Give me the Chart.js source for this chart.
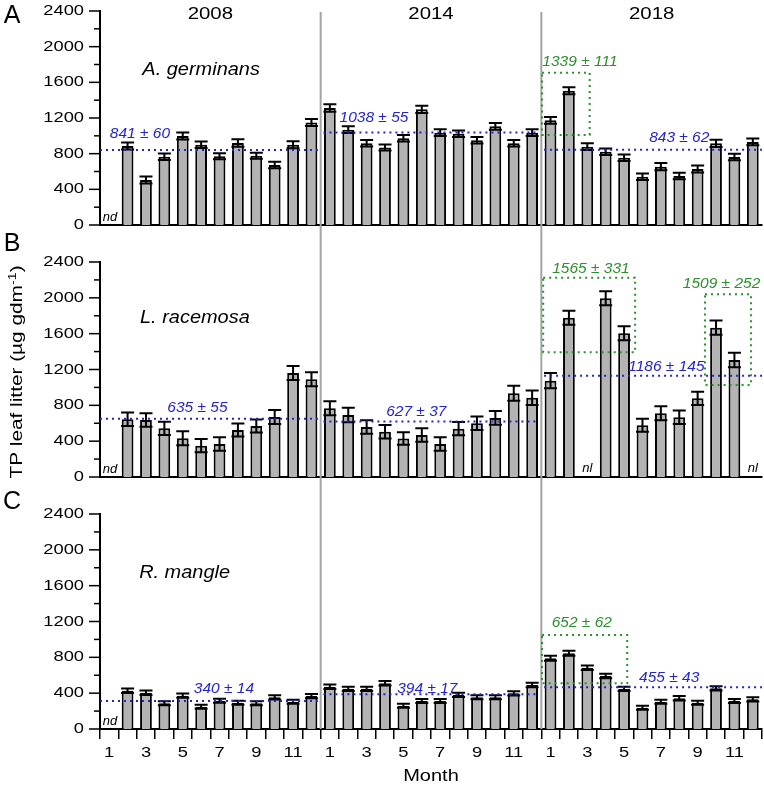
<!DOCTYPE html>
<html>
<head>
<meta charset="utf-8">
<script src="https://cdn.jsdelivr.net/npm/chart.js@4.4.1/dist/chart.umd.min.js"></script>
<style>
body { margin: 0; background: #fff; }
#wrap { position: relative; width: 764px; height: 787px; }
canvas { position: absolute; left: 0; }
</style>
</head>
<body>
<div id="wrap">
<canvas id="chartA" width="764" height="230" style="top:0px"></canvas>
<canvas id="chartB" width="764" height="255" style="top:230px"></canvas>
<canvas id="chartC" width="764" height="302" style="top:485px"></canvas>
</div>
<script>
// x axis: months of 2008, 2014, 2018
var years = ['2008', '2014', '2018'];
var monthNames = ['1', '2', '3', '4', '5', '6', '7', '8', '9', '10', '11', '12'];
var months = monthNames.concat(monthNames, monthNames);
var yTicks = [0, 400, 800, 1200, 1600, 2000, 2400];

// TP leaf litter, null = nd / nl
var germinans = [null, 886, 505, 766, 998, 900, 770, 920, 777, 673, 900, 1150,
    1312, 1069, 916, 870, 972, 1297, 1035, 1024, 950, 1107, 916, 1035,
    1174, 1506, 878, 822, 755, 542, 654, 550, 628, 916, 763, 931];
var germinansErr = [null, 38, 40, 36, 40, 36, 34, 42, 34, 36, 38, 40,
    42, 38, 36, 34, 36, 40, 38, 36, 36, 38, 36, 38,
    38, 40, 38, 36, 36, 36, 40, 36, 38, 40, 36, 38];

var racemosa = [null, 644, 636, 543, 432, 350, 368, 525, 569, 670, 1161, 1090,
    767, 692, 558, 506, 430, 469, 368, 540, 600, 660, 935, 885,
    1075, 1778, null, 1995, 1604, 577, 711, 666, 878, 1667, 1306, null];
var racemosaErr = [null, 75, 75, 75, 78, 75, 75, 72, 72, 78, 78, 78,
    78, 80, 75, 75, 70, 75, 75, 75, 75, 78, 85, 80,
    85, 78, null, 78, 78, 72, 78, 75, 75, 80, 80, null];

var mangle = [null, 428, 405, 287, 372, 249, 316, 294, 287, 354, 305, 368,
    472, 449, 449, 510, 260, 313, 313, 380, 354, 354, 398, 491,
    789, 845, 684, 592, 447, 238, 305, 343, 294, 454, 313, 331];
var mangleErr = [null, 25, 25, 22, 24, 22, 22, 22, 22, 24, 22, 24,
    25, 24, 24, 25, 22, 22, 22, 24, 22, 22, 24, 25,
    28, 28, 26, 25, 24, 22, 22, 24, 22, 24, 22, 24];

// yearly means (dotted lines) and their labels
var meanA = [841, 1038, 843];
var meanB = [650, 620, 1131];
var meanC = [313, 387, 465];
var meanTextA = ['841 ± 60', '1038 ± 55', '843 ± 62'];
var meanTextB = ['635 ± 55', '627 ± 37', '1186 ± 145'];
var meanTextC = ['340 ± 14', '394 ± 17', '455 ± 43'];

var FONT = "'Liberation Sans', Arial, sans-serif";
var BLUE = '#2424cc';
var GREEN = '#2e8f2e';

function say(c, text, x, y, font, color, align, sx, base) {
    c.save();
    c.translate(x, y);
    c.scale(sx || 1, 1);
    c.font = font;
    c.fillStyle = color;
    c.textAlign = align || 'center';
    c.textBaseline = base || 'middle';
    c.fillText(text, 0, 0);
    c.restore();
}

function decor(cfg) {
    return {
        id: 'decor' + cfg.letter,
        afterDatasetsDraw: function (chart) {
            var c = chart.ctx, xs = chart.scales.x, ys = chart.scales.y, area = chart.chartArea;
            var step = xs.getPixelForValue(1) - xs.getPixelForValue(0);
            function px(i) { return xs.getPixelForValue(0) - step / 2 + i * step; }
            c.save();

            // year separators
            c.strokeStyle = '#a3a3a3';
            c.lineWidth = 2;
            [12, 24].forEach(function (i) {
                c.beginPath();
                c.moveTo(px(i), cfg.sepTop);
                c.lineTo(px(i), cfg.sepToAxis ? area.bottom : chart.height);
                c.stroke();
            });

            // error bars
            c.strokeStyle = '#000';
            c.lineWidth = 2;
            chart.getDatasetMeta(0).data.forEach(function (bar, i) {
                var v = cfg.values[i];
                if (v == null) return;
                var yt = ys.getPixelForValue(v + cfg.errors[i]);
                var yb = ys.getPixelForValue(v - cfg.errors[i]);
                c.beginPath();
                c.moveTo(bar.x, yt); c.lineTo(bar.x, yb);
                c.moveTo(bar.x - 6.5, yt); c.lineTo(bar.x + 6.5, yt);
                c.moveTo(bar.x - 6.5, yb); c.lineTo(bar.x + 6.5, yb);
                c.stroke();
            });

            // y ticks (major + minor) and labels
            c.lineWidth = 1.5;
            ys.ticks.forEach(function (t) {
                var y = ys.getPixelForValue(t.value);
                var major = yTicks.indexOf(t.value) >= 0;
                c.beginPath();
                c.moveTo(area.left - (major ? 11 : 6), y);
                c.lineTo(area.left, y);
                c.stroke();
                if (major) say(c, String(t.value), area.left - 16, y, '15px ' + FONT, '#000', 'right', 1.22);
            });

            // mean lines
            c.setLineDash([2, 4]);
            c.lineWidth = 2;
            c.strokeStyle = BLUE;
            cfg.means.forEach(function (m, s) {
                var y = ys.getPixelForValue(m);
                c.beginPath();
                c.moveTo(px(s * 12 + (s > 0 ? 0.15 : 0)), y);
                c.lineTo(px(s * 12 + 12 - (s < 2 ? 0.15 : 0)), y);
                c.stroke();
            });

            // green boxes
            c.strokeStyle = GREEN;
            cfg.boxes.forEach(function (b) {
                var y1 = ys.getPixelForValue(b.v1), y0 = ys.getPixelForValue(b.v0);
                c.strokeRect(px(b.x0), y1, px(b.x1) - px(b.x0), y0 - y1);
                say(c, b.text, px(b.tx), ys.getPixelForValue(b.tv), 'italic 15.5px ' + FONT, GREEN, 'center', 1);
            });
            c.setLineDash([]);

            cfg.meanPos.forEach(function (p, s) {
                say(c, cfg.meanText[s], px(p[0]), ys.getPixelForValue(p[1]), 'italic 15.5px ' + FONT, BLUE, 'center', 1);
            });

            cfg.missing.forEach(function (p) {
                say(c, p[0], px(p[1]), ys.getPixelForValue(p[2]), 'italic 13px ' + FONT, '#000', 'center', 1);
            });

            say(c, cfg.species, px(cfg.spX), ys.getPixelForValue(cfg.spV), 'italic 19px ' + FONT, '#000', 'center', 1.05, 'alphabetic');
            say(c, cfg.letter, 12, cfg.letterY, '25px ' + FONT, '#000', 'center', 1);

            if (cfg.letter === 'A') {
                years.forEach(function (yr, s) {
                    say(c, yr, px(s * 12 + 6), ys.getPixelForValue(2365), '17px ' + FONT, '#000', 'center', 1.2);
                });
            }
            if (cfg.letter === 'B') {
                // y axis title with superscript
                c.save();
                c.translate(22, 142);
                c.rotate(-Math.PI / 2);
                c.scale(1.3, 1);
                c.fillStyle = '#000';
                c.textBaseline = 'alphabetic';
                c.textAlign = 'left';
                var main = 'TP leaf litter (µg gdm', sup = '-1', end = ')';
                c.font = '16px ' + FONT;
                var w1 = c.measureText(main).width, w3 = c.measureText(end).width;
                c.font = '11px ' + FONT;
                var w2 = c.measureText(sup).width;
                var x0 = -(w1 + w2 + w3) / 2;
                c.font = '16px ' + FONT;
                c.fillText(main, x0, 0);
                c.fillText(end, x0 + w1 + w2, 0);
                c.font = '11px ' + FONT;
                c.fillText(sup, x0 + w1, -6);
                c.restore();
            }
            if (cfg.letter === 'C') {
                for (var i = 0; i < months.length; i += 2) {
                    say(c, months[i], xs.getPixelForValue(i), area.bottom + 24, '15px ' + FONT, '#000', 'center', 1.22);
                }
                say(c, 'Month', px(18), area.bottom + 48, '16px ' + FONT, '#000', 'center', 1.25);
            }
            c.restore();
        }
    };
}

function makePanel(id, cfg) {
    var ctx = document.getElementById(id).getContext('2d');
    return new Chart(ctx, {
        type: 'bar',
        data: {
            labels: months,
            datasets: [{
                data: cfg.values,
                backgroundColor: '#b3b3b3',
                borderColor: '#000',
                borderWidth: 2,
                barPercentage: 0.64,
                categoryPercentage: 1
            }]
        },
        options: {
            responsive: false,
            animation: false,
            layout: { padding: { top: cfg.top, left: 0, right: 2, bottom: 0 } },
            plugins: { legend: { display: false }, tooltip: { enabled: false } },
            scales: {
                x: {
                    offset: true,
                    ticks: { display: false, autoSkip: false },
                    grid: { display: cfg.xTicks, drawOnChartArea: false, offset: true, tickLength: 10, color: '#000', lineWidth: 1.5 },
                    border: { display: true, color: '#000', width: 2 },
                    afterFit: function (s) { s.height = cfg.axisH; }
                },
                y: {
                    min: 0,
                    max: 2400,
                    ticks: { display: false, stepSize: 200 },
                    grid: { display: false },
                    border: { display: true, color: '#000', width: 2 },
                    afterFit: function (s) { s.width = 100; }
                }
            }
        },
        plugins: [decor(cfg)]
    });
}

// Panel A: A. germinans
makePanel('chartA', {
    letter: 'A', letterY: 16, species: 'A. germinans', spX: 5.5, spV: 1682,
    values: germinans, errors: germinansErr, means: meanA, meanText: meanTextA,
    meanPos: [[2.17, 1020], [14.9, 1206], [31.5, 979]],
    boxes: [{ x0: 24.04, x1: 26.63, v0: 1009, v1: 1708, text: '1339 ± 111', tx: 26.1, tv: 1831 }],
    missing: [['nd', 0.54, 85]],
    top: 11, axisH: 5, xTicks: false, sepTop: 12, sepToAxis: false
});

// Panel B: L. racemosa
makePanel('chartB', {
    letter: 'B', letterY: 14, species: 'L. racemosa', spX: 5.16, spV: 1722,
    values: racemosa, errors: racemosaErr, means: meanB, meanText: meanTextB,
    meanPos: [[5.3, 770], [17.2, 726], [30.8, 1231]],
    boxes: [
        { x0: 24.1, x1: 29.1, v0: 1392, v1: 2225, text: '1565 ± 331', tx: 26.7, tv: 2327 },
        { x0: 32.9, x1: 35.4, v0: 1027, v1: 2039, text: '1509 ± 252', tx: 33.8, tv: 2160 }
    ],
    missing: [['nd', 0.54, 85], ['nl', 26.5, 100], ['nl', 35.5, 100]],
    top: 32, axisH: 8, xTicks: false, sepTop: 0, sepToAxis: false
});

// Panel C: R. mangle
makePanel('chartC', {
    letter: 'C', letterY: 17, species: 'R. mangle', spX: 4.6, spV: 1689,
    values: mangle, errors: mangleErr, means: meanC, meanText: meanTextC,
    meanPos: [[6.74, 447], [17.8, 447], [30.95, 569]],
    boxes: [{ x0: 24.04, x1: 28.67, v0: 510, v1: 1049, text: '652 ± 62', tx: 26.2, tv: 1189 }],
    missing: [['nd', 0.54, 85]],
    top: 29, axisH: 58, xTicks: true, sepTop: 0, sepToAxis: true
});
</script>
</body>
</html>
